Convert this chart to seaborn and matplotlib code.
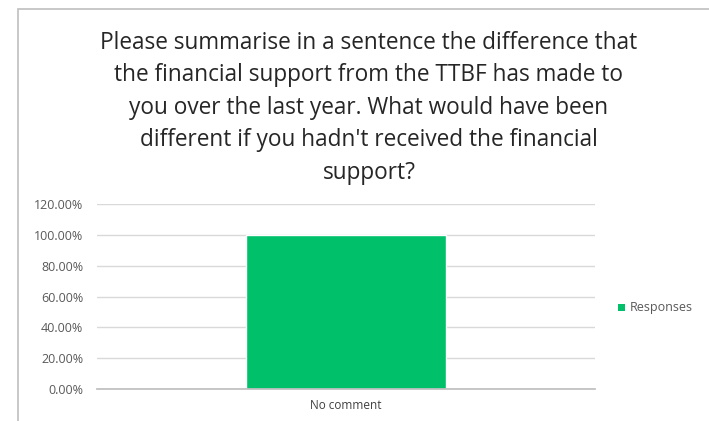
import matplotlib
matplotlib.use("Agg")
import matplotlib.pyplot as plt
import seaborn as sns
import pandas as pd
from matplotlib.ticker import FuncFormatter
from matplotlib.patches import Rectangle

categories = ["No comment"]
responses = [1.0]
yticks = [0.0, 0.2, 0.4, 0.6, 0.8, 1.0, 1.2]
series_name = "Responses"
title = ("Please summarise in a sentence the difference that\n"
         "the financial support from the TTBF has made to\n"
         "you over the last year. What would have been\n"
         "different if you hadn't received the financial\n"
         "support?")

sns.set_theme(style="white")
plt.rcParams["font.family"] = ["Open Sans", "DejaVu Sans"]

df = pd.DataFrame({"category": categories, "value": responses, "series": series_name})

W, H = 709, 421
fig = plt.figure(figsize=(W / 100, H / 100), dpi=100)
fig.patch.set_facecolor("white")

# chart frame
fig.add_artist(Rectangle((18 / W, -0.1), 1.2, (H - 9) / H + 0.1, transform=fig.transFigure,
                         fill=False, edgecolor="#bfbfbf", linewidth=1.2))

ax = fig.add_axes([97 / W, 1 - 389 / H, (595 - 97) / W, (389 - 204) / H])
green = "#00c06a"
sns.barplot(data=df, x="category", y="value", hue="series", palette=[green],
            saturation=1, width=0.4, ax=ax, legend=False)

ax.set_ylim(0, 1.2)
ax.set_yticks(yticks)
ax.yaxis.set_major_formatter(FuncFormatter(lambda v, _: f"{v * 100:.2f}%"))
ax.grid(axis="y", color="#d9d9d9", linewidth=1)
ax.set_axisbelow(True)
for s in ["top", "right", "left"]:
    ax.spines[s].set_visible(False)
ax.spines["bottom"].set_color("#bfbfbf")
ax.tick_params(axis="y", length=0, labelsize=9, labelcolor="#595959", pad=10)
ax.tick_params(axis="x", length=0, labelsize=8.5, labelcolor="#404040", pad=7)
ax.set_xlabel("")
ax.set_ylabel("")

fig.text(369 / W, 1 - 31 / H, title, ha="center", va="top", fontsize=16.3,
         color="#262626", linespacing=1.47)

# legend
fig.add_artist(Rectangle((618 / W, 1 - 311 / H), 7 / W, 7 / H, transform=fig.transFigure,
                         facecolor=green, edgecolor="none"))
fig.text(630 / W, 1 - 307.5 / H, series_name, ha="left", va="center", fontsize=9,
         color="#595959")

fig.savefig("out.png", dpi=100, facecolor="white")
